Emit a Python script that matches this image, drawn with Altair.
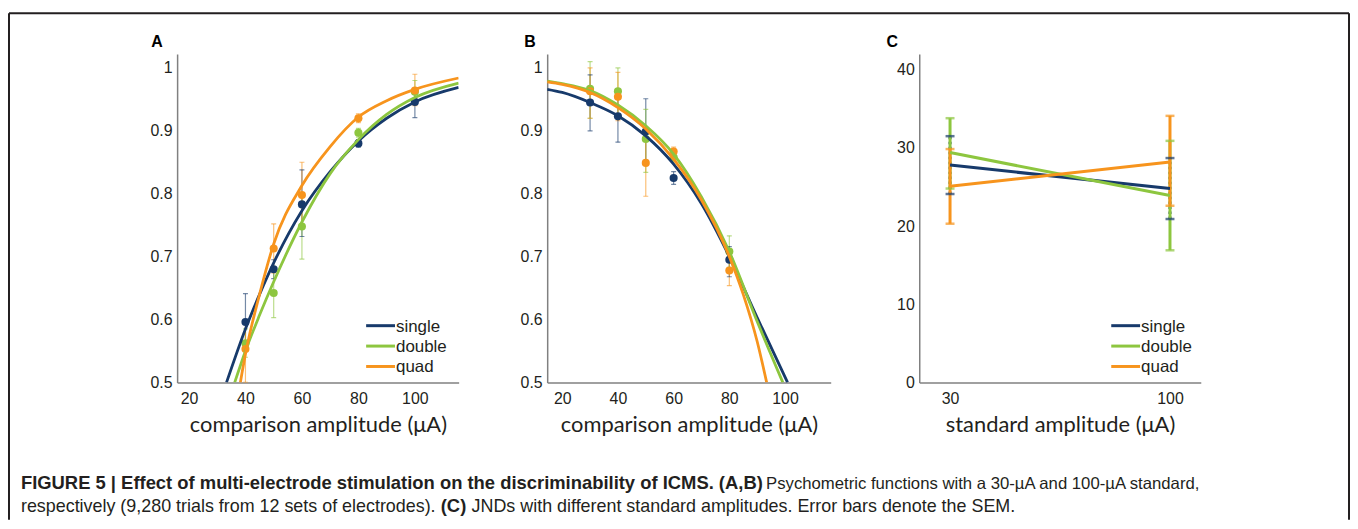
import altair as alt
import pandas as pd

# ---------------- data ----------------
series = ["single", "double", "quad"]
palette = ["#173a6b", "#8dc63f", "#f7941d"]

# Panel A (30-uA standard)
a_x = [40, 50, 60, 80, 100]
a_single = [0.596, 0.680, 0.783, 0.880, 0.946]
a_single_lo = [0.552, 0.665, 0.732, 0.874, 0.921]
a_single_hi = [0.641, 0.695, 0.838, 0.886, 0.966]
a_double = [0.562, 0.642, 0.748, 0.897, 0.962]
a_double_lo = [0.540, 0.603, 0.696, 0.890, 0.945]
a_double_hi = [0.585, 0.681, 0.797, 0.904, 0.980]
a_quad = [0.553, 0.713, 0.798, 0.920, 0.964]
a_quad_lo = [0.500, 0.674, 0.750, 0.913, 0.940]
a_quad_hi = [0.600, 0.752, 0.850, 0.927, 0.990]

a_fit_single_x = [33.3, 40, 45, 50, 60, 70, 80, 90, 100, 115.5]
a_fit_single_y = [0.5, 0.585, 0.64, 0.69, 0.773, 0.835, 0.884, 0.92, 0.946, 0.969]
a_fit_double_x = [36.2, 40, 45, 50, 60, 70, 80, 90, 100, 115.5]
a_fit_double_y = [0.5, 0.55, 0.607, 0.66, 0.755, 0.832, 0.886, 0.926, 0.953, 0.976]
a_fit_quad_x = [38.2, 40, 45, 50, 60, 70, 80, 90, 100, 115.5]
a_fit_quad_y = [0.5, 0.545, 0.64, 0.72, 0.813, 0.875, 0.922, 0.948, 0.966, 0.984]

# Panel B (100-uA standard)
b_x = [30, 40, 50, 60, 80]
b_single = [0.945, 0.923, 0.899, 0.825, 0.695]
b_single_lo = [0.900, 0.882, 0.850, 0.815, 0.668]
b_single_hi = [0.989, 0.963, 0.951, 0.835, 0.716]
b_double = [0.967, 0.963, 0.887, 0.858, 0.708]
b_double_lo = [0.920, 0.924, 0.834, 0.850, 0.683]
b_double_hi = [1.010, 1.000, 0.934, 0.866, 0.733]
b_quad = [0.963, 0.954, 0.849, 0.867, 0.678]
b_quad_lo = [0.920, 0.916, 0.796, 0.860, 0.654]
b_quad_hi = [1.000, 0.993, 0.900, 0.874, 0.700]

b_fit_single_x = [14.6, 20, 30, 40, 50, 60, 70, 80, 90, 100.9]
b_fit_single_y = [0.966, 0.961, 0.945, 0.924, 0.892, 0.847, 0.784, 0.70, 0.603, 0.5]
b_fit_double_x = [14.6, 20, 30, 40, 50, 60, 70, 80, 90, 99.2]
b_fit_double_y = [0.979, 0.975, 0.964, 0.941, 0.908, 0.863, 0.795, 0.708, 0.597, 0.5]
b_fit_quad_x = [14.6, 20, 30, 40, 50, 60, 70, 80, 85, 90, 93.4]
b_fit_quad_y = [0.978, 0.974, 0.961, 0.937, 0.903, 0.855, 0.79, 0.70, 0.64, 0.565, 0.5]

# Panel C (JNDs)
c_x = [30, 100]
c_single = [27.8, 24.8]
c_single_lo = [24.1, 20.9]
c_single_hi = [31.5, 28.7]
c_double = [29.4, 23.9]
c_double_lo = [24.8, 16.9]
c_double_hi = [33.8, 30.9]
c_quad = [25.1, 28.2]
c_quad_lo = [20.3, 22.6]
c_quad_hi = [29.85, 34.1]

a_ticks = [20, 40, 60, 80, 100]
p_ticks = [0.5, 0.6, 0.7, 0.8, 0.9, 1.0]
c_xticks = [30, 100]
c_yticks = [0, 10, 20, 30, 40]

cap1_bold = "FIGURE 5 | Effect of multi-electrode stimulation on the discriminability of ICMS. (A,B)"
cap1_reg = "Psychometric functions with a 30-\u00b5A and 100-\u00b5A standard,"
cap2_reg = "respectively (9,280 trials from 12 sets of electrodes)."
cap2_bold = "(C)"
cap2_reg2 = "JNDs with different standard amplitudes. Error bars denote the SEM."

# ---------------- helpers ----------------
INK = "#231f20"
GREY = "#808080"
ARIAL = "Liberation Sans"
cscale = alt.Scale(domain=series, range=palette)


def table(xs, groups):
    rows = []
    for name, (ys, lo, hi) in zip(series, groups):
        for x, y, l, h in zip(xs, ys, lo, hi):
            rows.append(dict(series=name, x=x, y=y, lo=l, hi=h))
    return pd.DataFrame(rows)


def fits(pairs):
    rows = []
    for name, (xs, ys) in zip(series, pairs):
        rows += [dict(series=name, x=x, y=y) for x, y in zip(xs, ys)]
    return pd.DataFrame(rows)


def col():
    return alt.Color("series:N", scale=cscale, legend=None)


def legend_layers(x0):
    out = []
    for i, name in enumerate(series):
        yy = 273 + 20.5 * i
        d = alt.Chart(pd.DataFrame({"series": [name]}))
        out.append(d.mark_rule(strokeWidth=3).encode(
            x=alt.value(x0), x2=alt.value(x0 + 29), y=alt.value(yy), color=col()))
        out.append(d.mark_text(align="left", baseline="middle", font=ARIAL,
                               fontSize=17, color=INK).encode(
            x=alt.value(x0 + 30), y=alt.value(yy + 1), text="series:N"))
    return out


def letter(ch, dx):
    return alt.Chart(pd.DataFrame({"t": [ch]})).mark_text(
        align="left", baseline="alphabetic", font=ARIAL, fontSize=16,
        fontWeight="bold", color="#000").encode(
        x=alt.value(dx), y=alt.value(-7), text="t:N")


def text_piece(s, x, y, bold, size):
    return alt.Chart(pd.DataFrame({"t": [s]})).mark_text(
        align="left", baseline="alphabetic", font=ARIAL, fontSize=size,
        fontWeight="bold" if bold else "normal", color=INK).encode(
        x=alt.value(x), y=alt.value(y), text="t:N")


def psy_panel(pts, fit, xdom, width, extra):
    xs = alt.Scale(domain=xdom, nice=False, zero=False)
    ys = alt.Scale(domain=[0.5, 1.022], nice=False, zero=False)
    xax = alt.Axis(values=a_ticks, title="comparison amplitude (\u03bcA)")
    yax = alt.Axis(values=p_ticks, format=".1~f", title=None)
    X = alt.X("x:Q", scale=xs, axis=xax)
    base = alt.Chart(pts)
    bars = base.mark_rule(strokeWidth=1.2, opacity=0.6, clip=True).encode(
        x=X, y=alt.Y("lo:Q", scale=ys, axis=yax), y2="hi:Q", color=col())
    cap_lo = base.mark_tick(orient="horizontal", size=5, thickness=1.2,
                            opacity=0.6, clip=True).encode(
        x=X, y=alt.Y("lo:Q", scale=ys, axis=yax), color=col())
    cap_hi = base.mark_tick(orient="horizontal", size=5, thickness=1.2,
                            opacity=0.6, clip=True).encode(
        x=X, y=alt.Y("hi:Q", scale=ys, axis=yax), color=col())
    dots = base.mark_circle(size=66, opacity=1).encode(
        x=X, y=alt.Y("y:Q", scale=ys, axis=yax), color=col())
    curve = alt.Chart(fit).mark_line(strokeWidth=2.8, interpolate="monotone",
                                     clip=True).encode(
        x=X, y=alt.Y("y:Q", scale=ys, axis=yax), color=col(),
        order="x:Q")
    return alt.layer(bars, cap_lo, cap_hi, dots, curve, *extra).properties(
        width=width, height=330)


# ---------------- panel A ----------------
pts_a = table(a_x, [(a_single, a_single_lo, a_single_hi),
                    (a_double, a_double_lo, a_double_hi),
                    (a_quad, a_quad_lo, a_quad_hi)])
fit_a = fits([(a_fit_single_x, a_fit_single_y),
              (a_fit_double_x, a_fit_double_y),
              (a_fit_quad_x, a_fit_quad_y)])

one = pd.DataFrame({"k": [0]})
frame = [
    alt.Chart(one).mark_rule(strokeWidth=2, color=INK).encode(
        x=alt.value(-169), x2=alt.value(1178), y=alt.value(-41)),
    alt.Chart(one).mark_rule(strokeWidth=2, color=INK).encode(
        x=alt.value(-169), y=alt.value(-41), y2=alt.value(468)),
    alt.Chart(one).mark_rule(strokeWidth=2, color=INK).encode(
        x=alt.value(1178), y=alt.value(-41), y2=alt.value(468)),
]
caption = [
    text_piece(cap1_bold, -157, 437, True, 18.5),
    text_piece(cap1_reg, 592, 437, False, 16.8),
    text_piece(cap2_reg, -157, 460, False, 18),
    text_piece(cap2_bold, 265, 460, True, 18.5),
    text_piece(cap2_reg2, 296, 460, False, 18),
]

panel_a = psy_panel(pts_a, fit_a, [15.8, 115.5], 283,
                    legend_layers(190) + [letter("A", -26)] + frame + caption)

# ---------------- panel B ----------------
pts_b = table(b_x, [(b_single, b_single_lo, b_single_hi),
                    (b_double, b_double_lo, b_double_hi),
                    (b_quad, b_quad_lo, b_quad_hi)])
fit_b = fits([(b_fit_single_x, b_fit_single_y),
              (b_fit_double_x, b_fit_double_y),
              (b_fit_quad_x, b_fit_quad_y)])
panel_b = psy_panel(pts_b, fit_b, [14.6, 116.4], 285, [letter("B", -23)])

# ---------------- panel C ----------------
pts_c = table(c_x, [(c_single, c_single_lo, c_single_hi),
                    (c_double, c_double_lo, c_double_hi),
                    (c_quad, c_quad_lo, c_quad_hi)])
xs_c = alt.Scale(domain=[20.2, 109.8], nice=False, zero=False)
ys_c = alt.Scale(domain=[0, 42], nice=False, zero=False)
xax_c = alt.Axis(values=c_xticks, title="standard amplitude (\u03bcA)")
yax_c = alt.Axis(values=c_yticks, title=None)
Xc = alt.X("x:Q", scale=xs_c, axis=xax_c)

layers_c = []
for name in series:
    d = alt.Chart(pts_c).transform_filter(alt.datum.series == name)
    dash = [2.5, 2.5] if name == "single" else [1, 0]
    layers_c.append(d.mark_rule(strokeWidth=3, strokeDash=dash).encode(
        x=Xc, y=alt.Y("lo:Q", scale=ys_c, axis=yax_c), y2="hi:Q", color=col()))
for name in series:
    d = alt.Chart(pts_c).transform_filter(alt.datum.series == name)
    dash = [2.5, 2.5] if name == "single" else [1, 0]
    for f in ["lo", "hi"]:
        layers_c.append(d.mark_tick(orient="horizontal", size=9, thickness=2.5,
                                    strokeDash=dash).encode(
            x=Xc, y=alt.Y(f"{f}:Q", scale=ys_c, axis=yax_c), color=col()))
for name in series:
    d = alt.Chart(pts_c).transform_filter(alt.datum.series == name)
    layers_c.append(d.mark_line(strokeWidth=3).encode(
        x=Xc, y=alt.Y("y:Q", scale=ys_c, axis=yax_c), color=col()))

panel_c = alt.layer(*layers_c, *legend_layers(193), letter("C", -33)).properties(
    width=283, height=330)

chart = alt.hconcat(panel_a, panel_b, panel_c, spacing=89, bounds="flush").properties(
    padding={"left": 0, "top": 3, "right": 0, "bottom": 0}
).configure_view(stroke=None).configure_axis(
    domainColor=GREY, domainWidth=1.5, ticks=False, grid=False,
    labelFont=ARIAL, labelFontSize=16, labelColor=INK, labelPadding=5,
    labelFlush=False,
    titleFont="Lato", titleFontSize=22, titleFontWeight="normal",
    titleColor=INK, titlePadding=8,
).configure_axisX(labelPadding=8)

chart.save("out.html", embed_options={"renderer": "svg", "actions": False})
